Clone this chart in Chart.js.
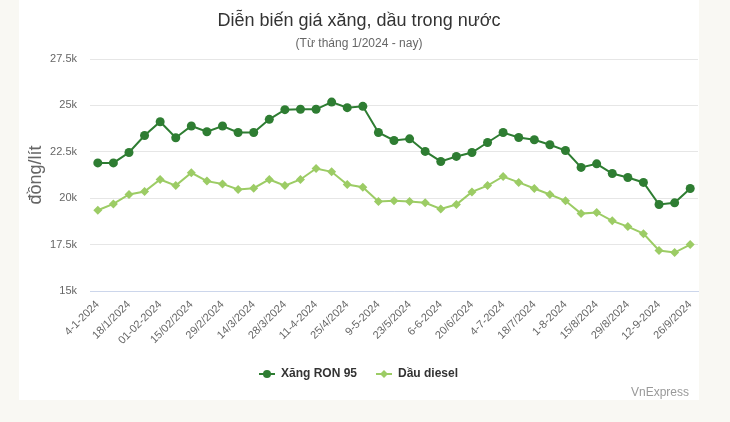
<!DOCTYPE html>
<html>
<head>
<meta charset="utf-8">
<script src="https://cdn.jsdelivr.net/npm/chart.js@4.4.1/dist/chart.umd.min.js"></script>
<style>
  html, body { margin: 0; padding: 0; background: #f9f8f3; }
  canvas { display: block; }
</style>
</head>
<body>
<canvas id="fuelChart" width="730" height="422"></canvas>
<script>
// weekly price adjustment dates
const dates = [
    "4-1-2024", "11-1-2024", "18/1/2024", "25/1/2024", "01-02-2024", "08-02-2024",
    "15/02/2024", "22/02/2024", "29/2/2024", "7-3-2024", "14/3/2024", "21/3/2024",
    "28/3/2024", "4-4-2024", "11-4-2024", "18/4/2024", "25/4/2024", "2-5-2024",
    "9-5-2024", "16/5/2024", "23/5/2024", "30/5/2024", "6-6-2024", "13/6/2024",
    "20/6/2024", "27/6/2024", "4-7-2024", "11-7-2024", "18/7/2024", "25/7/2024",
    "1-8-2024", "8-8-2024", "15/8/2024", "22/8/2024", "29/8/2024", "5-9-2024",
    "12-9-2024", "19/9/2024", "26/9/2024"
];

// đồng/lít
const ron95 = [
    21900, 21900, 22460, 23380, 24120, 23260, 23890, 23580, 23890, 23540,
    23540, 24250, 24770, 24790, 24790, 25180, 24880, 24950, 23540, 23110,
    23200, 22520, 21980, 22250, 22460, 23000, 23540, 23270, 23150, 22880,
    22570, 21660, 21850, 21330, 21115, 20850, 19660, 19750, 20520
];
const diesel = [
    19350, 19690, 20200, 20360, 21010, 20680, 21370, 20920, 20770, 20470,
    20540, 21010, 20680, 21010, 21600, 21420, 20740, 20590, 19820, 19860,
    19820, 19750, 19420, 19660, 20340, 20680, 21170, 20850, 20520, 20200,
    19860, 19170, 19230, 18780, 18470, 18090, 17180, 17070, 17500
];

const yTicks = [15000, 17500, 20000, 22500, 25000, 27500];

const seriesNames = ["Xăng RON 95", "Dầu diesel"];
const darkGreen = "#2e7d32";
const lightGreen = "#9ccc65";
const FONT = "'Liberation Sans', Arial, sans-serif";

// white card, titles, legend and credit
const decor = {
    id: "decor",
    beforeDraw(chart) {
        const ctx = chart.ctx;
        ctx.save();
        ctx.fillStyle = "#ffffff";
        ctx.fillRect(19, 0, 680, 400);
        ctx.textAlign = "center";
        ctx.textBaseline = "alphabetic";
        ctx.fillStyle = "#333333";
        ctx.font = "18px " + FONT;
        ctx.fillText("Diễn biến giá xăng, dầu trong nước", 359, 26);
        ctx.fillStyle = "#666666";
        ctx.font = "12px " + FONT;
        ctx.fillText("(Từ tháng 1/2024 - nay)", 359, 47);
        ctx.restore();
    },
    afterDraw(chart) {
        const ctx = chart.ctx;
        ctx.save();
        const items = [
            { x: 259, color: darkGreen, style: "circle" },
            { x: 376, color: lightGreen, style: "rectRot" }
        ];
        items.forEach((it, i) => {
            ctx.strokeStyle = it.color;
            ctx.lineWidth = 2;
            ctx.beginPath();
            ctx.moveTo(it.x, 374);
            ctx.lineTo(it.x + 16, 374);
            ctx.stroke();
            ctx.fillStyle = it.color;
            Chart.helpers.drawPoint(ctx, { pointStyle: it.style, radius: 4, borderWidth: 0 }, it.x + 8, 374);
            ctx.fillStyle = "#333333";
            ctx.font = "bold 12px " + FONT;
            ctx.textAlign = "left";
            ctx.textBaseline = "middle";
            ctx.fillText(seriesNames[i], it.x + 22, 374);
        });
        ctx.fillStyle = "#999999";
        ctx.font = "12px " + FONT;
        ctx.textAlign = "right";
        ctx.textBaseline = "alphabetic";
        ctx.fillText("VnExpress", 689, 396);
        ctx.restore();
    }
};

new Chart(document.getElementById("fuelChart"), {
    type: "line",
    data: {
        labels: dates,
        datasets: [{
            label: seriesNames[0],
            data: ron95,
            borderColor: darkGreen,
            backgroundColor: darkGreen,
            borderWidth: 2,
            pointStyle: "circle",
            pointRadius: 4.5,
            pointBorderWidth: 0,
            tension: 0
        }, {
            label: seriesNames[1],
            data: diesel,
            borderColor: lightGreen,
            backgroundColor: lightGreen,
            borderWidth: 2,
            pointStyle: "rectRot",
            pointRadius: 4.5,
            pointBorderWidth: 0,
            tension: 0
        }]
    },
    options: {
        responsive: false,
        animation: false,
        devicePixelRatio: 1,
        layout: { padding: { left: 19, right: 32, top: 59, bottom: 0 } },
        plugins: {
            legend: { display: false },
            tooltip: { enabled: false }
        },
        scales: {
            x: {
                offset: true,
                grid: { display: false, drawTicks: false },
                border: { color: "#ccd6eb", width: 1 },
                ticks: {
                    autoSkip: false,
                    maxRotation: 45,
                    minRotation: 45,
                    padding: 7,
                    color: "#666666",
                    font: { family: FONT, size: 11 },
                    callback: function (value, index) {
                        return index % 2 === 0 ? dates[index] : "";
                    }
                },
                afterFit(scale) { scale.height = 131; }
            },
            y: {
                min: yTicks[0],
                max: yTicks[yTicks.length - 1],
                afterBuildTicks(scale) { scale.ticks = yTicks.map(v => ({ value: v })); },
                grid: { color: "#e6e6e6", drawTicks: false },
                border: { display: false },
                ticks: {
                    padding: 13,
                    color: "#666666",
                    font: { family: FONT, size: 11 },
                    callback: v => (v / 1000) + "k"
                },
                title: {
                    display: true,
                    text: "đồng/lít",
                    color: "#666666",
                    font: { family: FONT, size: 18 },
                    padding: { top: 6, bottom: 0 }
                },
                afterFit(scale) { scale.width = 71; }
            }
        }
    },
    plugins: [decor]
});
</script>
</body>
</html>
